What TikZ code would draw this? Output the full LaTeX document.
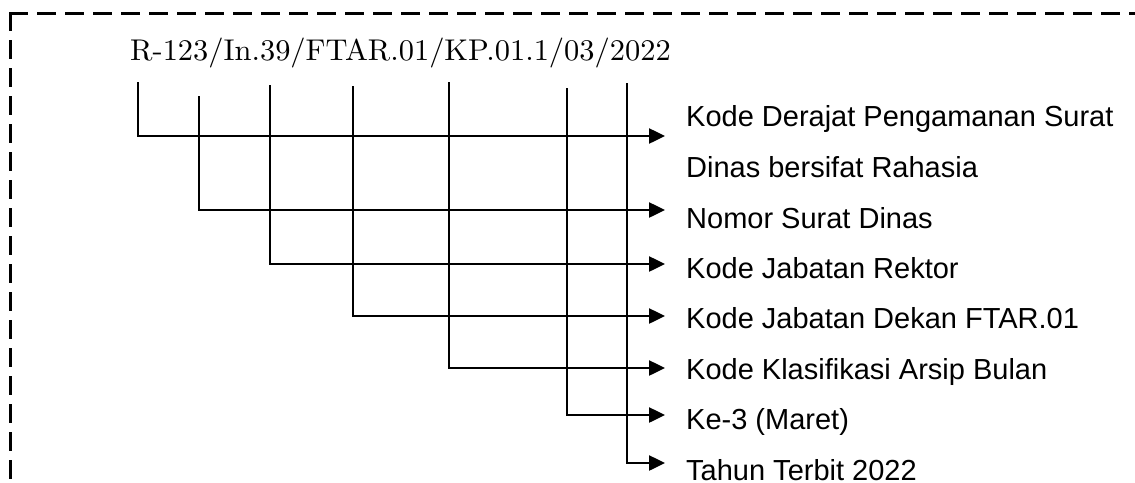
\documentclass[tikz,border=0pt]{standalone}
\usepackage{fontspec}
\newfontfamily\lblfont{Liberation Sans}
\newfontfamily\codefont{lmroman10-regular.otf}
\usetikzlibrary{arrows.meta}
\begin{document}
\begin{tikzpicture}[x=1pt,y=-1pt,
  conn/.style={line width=2.5pt,-{Triangle[length=16pt,width=15pt]}},
  lbl/.style={font=\lblfont\fontsize{29}{35}\selectfont,anchor=base west,inner sep=0pt},
  code/.style={font=\codefont\fontsize{30}{36}\selectfont,anchor=base west,inner sep=0pt},
  frame/.style={line width=2.7pt,line cap=rect,dash pattern=on 16pt off 12pt}]
\useasboundingbox (0,0) rectangle (1135,482);
\clip (0,0) rectangle (1135,482);
% frame (cut by the picture edge at right and bottom)
\coordinate (corner) at (10.7,13.3);
\coordinate (fr) at (1170,13.3);
\coordinate (fb) at (10.7,510);
\draw[frame] (corner) -- (fr);
\draw[frame] (corner) -- (fb);
% code
\node[code] (code) at (130,60) {\scalebox{1.015}[1]{R-123/In.39/FTAR.01/KP.01.1/03/2022}};
% labels
\node[lbl] (l1a) at (686,126) {Kode Derajat Pengamanan Surat};
\node[lbl] (l1b) at (686,177) {Dinas bersifat Rahasia};
\node[lbl] (l2) at (686,228) {Nomor Surat Dinas};
\node[lbl] (l3) at (686,278) {Kode Jabatan Rektor};
\node[lbl] (l4) at (686,328) {Kode Jabatan Dekan FTAR.01};
\node[lbl] (l5) at (686,379) {Kode Klasifikasi Arsip Bulan};
\node[lbl] (l6) at (686,429.5) {Ke-3 (Maret)};
\node[lbl] (l7) at (686,480) {Tahun Terbit 2022};
% line tops
\coordinate (t1) at (138,82);
\coordinate (t2) at (199,96);
\coordinate (t3) at (270,85);
\coordinate (t4) at (353,86);
\coordinate (t5) at (449,82);
\coordinate (t6) at (567,88);
\coordinate (t7) at (627,83);
% arrow ends
\coordinate (e1) at (665,136);
\coordinate (e2) at (665,210);
\coordinate (e3) at (665,264);
\coordinate (e4) at (665,316);
\coordinate (e5) at (665,368);
\coordinate (e6) at (665,415);
\coordinate (e7) at (665,463);
\foreach \i in {1,...,7}{\draw[conn] (t\i) |- (e\i);}
\end{tikzpicture}
\end{document}
